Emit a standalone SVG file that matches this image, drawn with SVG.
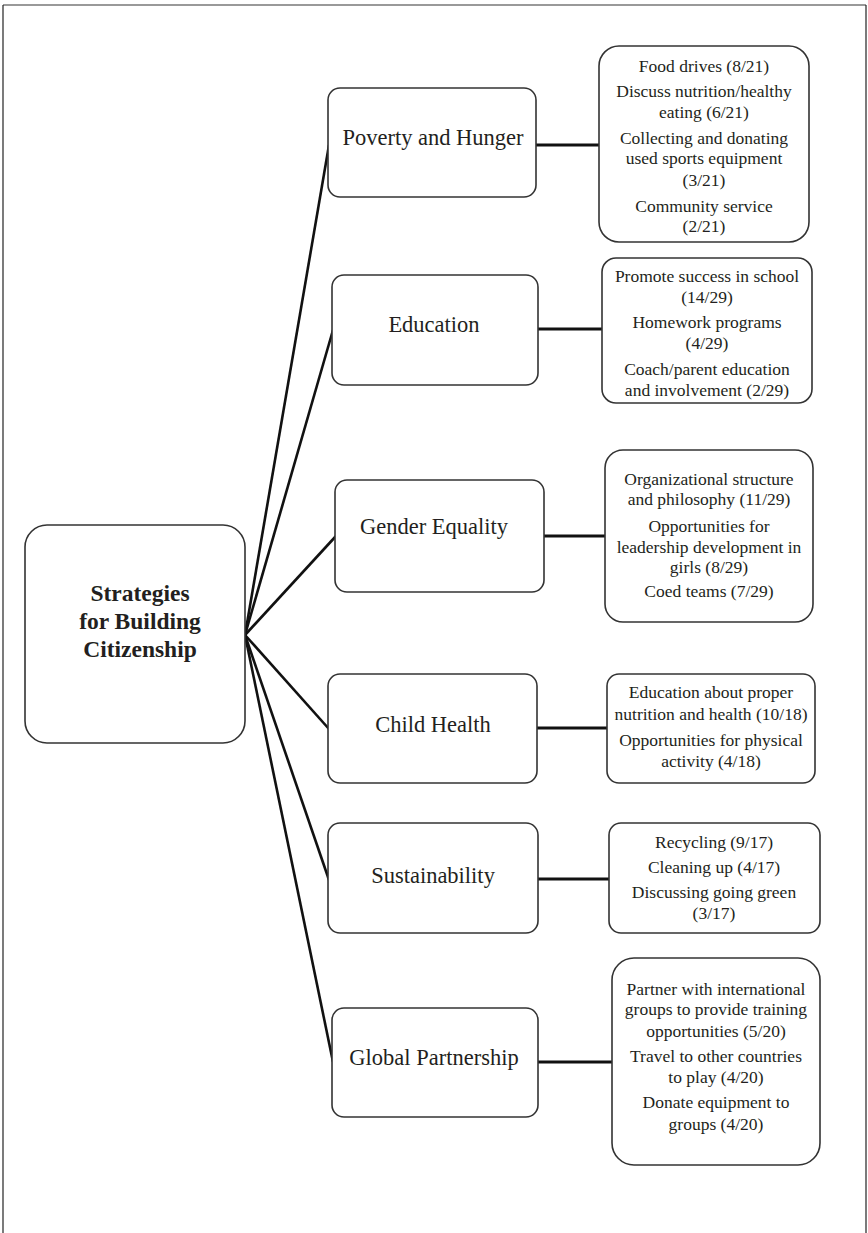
<svg xmlns="http://www.w3.org/2000/svg" width="868" height="1233" viewBox="0 0 868 1233">
<style>
.frame{fill:none;stroke:#777;stroke-width:1.5}
.frame2{fill:none;stroke:#222;stroke-width:1.2}
.box{fill:#fff;stroke:#333;stroke-width:1.6}
.conn{stroke:#111;stroke-width:2.6;fill:none}
.hconn{stroke:#111;stroke-width:3.2;fill:none}
.lbl{font-family:"Liberation Serif","Times New Roman",serif;font-size:22.5px;fill:#231f20;text-anchor:middle}
.main{font-family:"Liberation Serif","Times New Roman",serif;font-size:23.5px;font-weight:bold;fill:#231f20;text-anchor:middle}
.item{font-family:"Liberation Serif","Times New Roman",serif;font-size:17.5px;fill:#231f20;text-anchor:middle}
</style>
<rect width="868" height="1233" fill="#fff"/>
<line class="frame" x1="3" y1="5" x2="866" y2="5"/>
<line class="frame2" x1="3" y1="5" x2="3" y2="1233"/>
<line class="frame2" x1="866" y1="5" x2="866" y2="1233"/>

<g id="connectors">
<line class="conn" x1="245" y1="635" x2="329" y2="145"/>
<line class="conn" x1="245" y1="635" x2="333" y2="330"/>
<line class="conn" x1="245" y1="635" x2="336" y2="536"/>
<line class="conn" x1="245" y1="635" x2="329" y2="729"/>
<line class="conn" x1="245" y1="635" x2="329" y2="880"/>
<line class="conn" x1="245" y1="635" x2="333" y2="1062"/>
<line class="hconn" x1="536" y1="145" x2="599" y2="145"/>
<line class="hconn" x1="538" y1="329" x2="602" y2="329"/>
<line class="hconn" x1="544" y1="536" x2="605" y2="536"/>
<line class="hconn" x1="537" y1="728" x2="607" y2="728"/>
<line class="hconn" x1="538" y1="879" x2="609" y2="879"/>
<line class="hconn" x1="538" y1="1062" x2="612" y2="1062"/>
</g>

<g id="center">
<rect class="box" x="25" y="525" width="220" height="218" rx="22"/>
<text class="main" x="140" y="601">Strategies</text>
<text class="main" x="140" y="629">for Building</text>
<text class="main" x="140" y="657">Citizenship</text>
</g>

<g id="poverty">
<rect class="box" x="328" y="88" width="208" height="109" rx="12"/>
<text class="lbl" x="433" y="145">Poverty and Hunger</text>
</g>
<g id="poverty-items">
<rect class="box" x="599" y="46" width="210" height="196" rx="20"/>
<text class="item" x="704" y="72">Food drives (8/21)</text>
<text class="item" x="704" y="97">Discuss nutrition/healthy</text>
<text class="item" x="704" y="118">eating (6/21)</text>
<text class="item" x="704" y="144">Collecting and donating</text>
<text class="item" x="704" y="164">used sports equipment</text>
<text class="item" x="704" y="186">(3/21)</text>
<text class="item" x="704" y="212">Community service</text>
<text class="item" x="704" y="232">(2/21)</text>
</g>

<g id="education">
<rect class="box" x="332" y="275" width="206" height="110" rx="12"/>
<text class="lbl" x="434" y="332">Education</text>
</g>
<g id="education-items">
<rect class="box" x="602" y="258" width="210" height="145" rx="14"/>
<text class="item" x="707" y="282">Promote success in school</text>
<text class="item" x="707" y="303">(14/29)</text>
<text class="item" x="707" y="328">Homework programs</text>
<text class="item" x="707" y="349">(4/29)</text>
<text class="item" x="707" y="375">Coach/parent education</text>
<text class="item" x="707" y="396">and involvement (2/29)</text>
</g>

<g id="gender">
<rect class="box" x="335" y="480" width="209" height="112" rx="12"/>
<text class="lbl" x="434" y="534">Gender Equality</text>
</g>
<g id="gender-items">
<rect class="box" x="605" y="450" width="208" height="172" rx="18"/>
<text class="item" x="709" y="485">Organizational structure</text>
<text class="item" x="709" y="505">and philosophy (11/29)</text>
<text class="item" x="709" y="532">Opportunities for</text>
<text class="item" x="709" y="553">leadership development in</text>
<text class="item" x="709" y="573">girls (8/29)</text>
<text class="item" x="709" y="597">Coed teams (7/29)</text>
</g>

<g id="child-health">
<rect class="box" x="328" y="674" width="209" height="109" rx="12"/>
<text class="lbl" x="433" y="732">Child Health</text>
</g>
<g id="child-health-items">
<rect class="box" x="607" y="674" width="208" height="109" rx="12"/>
<text class="item" x="711" y="698">Education about proper</text>
<text class="item" x="711" y="720">nutrition and health (10/18)</text>
<text class="item" x="711" y="746">Opportunities for physical</text>
<text class="item" x="711" y="767">activity (4/18)</text>
</g>

<g id="sustainability">
<rect class="box" x="328" y="823" width="210" height="110" rx="12"/>
<text class="lbl" x="433" y="883">Sustainability</text>
</g>
<g id="sustainability-items">
<rect class="box" x="609" y="823" width="211" height="110" rx="12"/>
<text class="item" x="714" y="848">Recycling (9/17)</text>
<text class="item" x="714" y="873">Cleaning up (4/17)</text>
<text class="item" x="714" y="898">Discussing going green</text>
<text class="item" x="714" y="919">(3/17)</text>
</g>

<g id="global">
<rect class="box" x="332" y="1008" width="206" height="109" rx="12"/>
<text class="lbl" x="434" y="1065">Global Partnership</text>
</g>
<g id="global-items">
<rect class="box" x="612" y="958" width="208" height="207" rx="22"/>
<text class="item" x="716" y="995">Partner with international</text>
<text class="item" x="716" y="1015">groups to provide training</text>
<text class="item" x="716" y="1037">opportunities (5/20)</text>
<text class="item" x="716" y="1062">Travel to other countries</text>
<text class="item" x="716" y="1083">to play (4/20)</text>
<text class="item" x="716" y="1108">Donate equipment to</text>
<text class="item" x="716" y="1130">groups (4/20)</text>
</g>
</svg>
